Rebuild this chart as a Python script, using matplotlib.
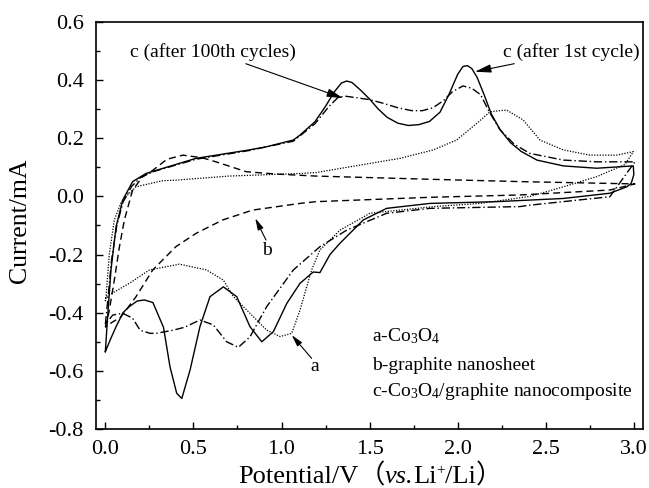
import matplotlib
matplotlib.use("Agg")
import matplotlib.pyplot as plt
from matplotlib.ticker import MultipleLocator, FormatStrFormatter

plt.rcParams['font.family'] = ['Liberation Serif', 'DejaVu Serif']
plt.rcParams['mathtext.fontset'] = 'custom'
plt.rcParams['mathtext.rm'] = 'Liberation Serif'
plt.rcParams['mathtext.it'] = 'Liberation Serif:italic'

# ---- data ----
# a: Co3O4 (dotted) — anodic then cathodic sweep
a_V = [0.0, 0.004, 0.023, 0.051, 0.09, 0.117, 0.174, 0.193, 0.326, 0.40, 0.70, 1.105, 1.196,
       1.389, 1.673, 1.862, 1.994, 2.108, 2.183, 2.24, 2.278, 2.372, 2.467, 2.6, 2.751, 2.902,
       2.997, 2.95, 2.789, 2.6, 2.41, 2.127, 1.862, 1.502, 1.332, 1.218, 1.171, 1.143, 1.105,
       1.058, 0.992, 0.916, 0.821, 0.727, 0.67, 0.575, 0.42, 0.25, 0.136, 0.004, 0.0]
a_I = [-0.36, -0.345, -0.196, -0.081, -0.02, -0.001, 0.033, 0.036, 0.054, 0.056, 0.07, 0.079, 0.082,
       0.102, 0.131, 0.16, 0.194, 0.251, 0.291, 0.295, 0.297, 0.263, 0.194, 0.16, 0.142, 0.142,
       0.154, 0.11, 0.068, 0.033, 0.0, -0.024, -0.035, -0.058, -0.116, -0.184, -0.253, -0.311, -0.391,
       -0.471, -0.482, -0.46, -0.402, -0.345, -0.288, -0.253, -0.233, -0.253, -0.299, -0.345, -0.36]

# b: graphite nanosheet (dashed)
b_V = [0.0, 0.02, 0.051, 0.08, 0.108, 0.155, 0.212, 0.27, 0.35, 0.44, 0.55, 0.628, 0.80, 0.97,
       1.196, 1.843, 2.353, 3.006, 2.864, 2.353, 1.843, 1.196, 1.105, 0.836, 0.666, 0.515, 0.40,
       0.269, 0.174, 0.089, 0.02, 0.0]
b_I = [-0.45, -0.40, -0.288, -0.173, -0.081, 0.022, 0.068, 0.09, 0.128, 0.142, 0.133, 0.119, 0.085, 0.077,
       0.07, 0.059, 0.051, 0.043, 0.022, 0.005, -0.003, -0.018, -0.024, -0.047, -0.081, -0.127, -0.173,
       -0.253, -0.345, -0.414, -0.44, -0.45]

# c after 1st cycle (solid)
c1_V = [0.0, 0.013, 0.032, 0.061, 0.099, 0.155, 0.231, 0.40, 0.515, 0.817, 0.916, 1.067, 1.105,
        1.19, 1.25, 1.30, 1.34, 1.37, 1.40, 1.45, 1.50, 1.55, 1.60, 1.66, 1.72, 1.78, 1.84, 1.90,
        1.95, 2.0, 2.03, 2.055, 2.08, 2.11, 2.15, 2.19, 2.24, 2.30, 2.36, 2.45, 2.6, 2.789, 2.997,
        3.0, 2.985, 2.96, 2.864, 2.6, 2.22, 1.843, 1.597, 1.464, 1.332, 1.275, 1.218, 1.18, 1.105,
        1.03, 0.954, 0.888, 0.821, 0.746, 0.67, 0.594, 0.537, 0.481, 0.434, 0.405, 0.367, 0.33,
        0.27, 0.221, 0.18, 0.136, 0.10, 0.061, 0.03, 0.0]
c1_I = [-0.534, -0.414, -0.253, -0.104, -0.012, 0.051, 0.079, 0.11, 0.131, 0.16, 0.171, 0.194, 0.211,
        0.257, 0.31, 0.36, 0.39, 0.397, 0.392, 0.365, 0.335, 0.30, 0.272, 0.252, 0.244, 0.247, 0.258, 0.29,
        0.35, 0.42, 0.447, 0.45, 0.44, 0.41, 0.35, 0.285, 0.23, 0.185, 0.155, 0.125, 0.105, 0.097, 0.105,
        0.075, 0.045, 0.033, 0.011, -0.007, -0.018, -0.024, -0.041, -0.081, -0.161, -0.20, -0.262, -0.26, -0.299,
        -0.368, -0.465, -0.50, -0.448, -0.345, -0.311, -0.345, -0.448, -0.597, -0.695, -0.677, -0.586, -0.45,
        -0.365, -0.356, -0.36, -0.379, -0.40, -0.448, -0.49, -0.534]

# c after 100th cycles (dash-dot)
c100_V = [0.0, 0.015, 0.035, 0.065, 0.10, 0.15, 0.20, 0.27, 0.515, 0.817, 1.067, 1.19, 1.27,
          1.32, 1.36, 1.42, 1.50, 1.58, 1.66, 1.74, 1.80, 1.86, 1.92, 1.97, 2.03, 2.08, 2.13, 2.18,
          2.24, 2.32, 2.41, 2.6, 2.789, 3.006, 2.864, 2.41, 2.353, 1.843, 1.597, 1.37, 1.218, 1.067,
          0.916, 0.821, 0.755, 0.689, 0.613, 0.537, 0.45, 0.386, 0.288, 0.254, 0.197, 0.155, 0.099,
          0.042, 0.0]
c100_I = [-0.44, -0.35, -0.22, -0.10, -0.02, 0.035, 0.065, 0.085, 0.128, 0.158, 0.19, 0.25, 0.31,
          0.34, 0.345, 0.34, 0.333, 0.32, 0.305, 0.295, 0.295, 0.305, 0.33, 0.36, 0.38, 0.372, 0.35, 0.29,
          0.23, 0.18, 0.148, 0.125, 0.119, 0.119, -0.001, -0.03, -0.035, -0.041, -0.058, -0.116, -0.173, -0.253,
          -0.379, -0.483, -0.519, -0.50, -0.442, -0.425, -0.45, -0.46, -0.471, -0.471, -0.46, -0.419, -0.402,
          -0.408, -0.44]

x_ticks = [0.0, 0.5, 1.0, 1.5, 2.0, 2.5, 3.0]
y_ticks = [-0.8, -0.6, -0.4, -0.2, 0.0, 0.2, 0.4, 0.6]

fig = plt.figure(figsize=(6.49, 4.88), dpi=100)
ax = fig.add_axes([96/649, 1-429/488, (643-96)/649, (429-22)/488])

lw = 1.0
ax.plot(a_V, a_I, color='black', lw=0.9, linestyle=(0, (1, 1.2)))
ax.plot(b_V, b_I, color='black', lw=lw, linestyle=(0, (5, 3)))
ax.plot(c1_V, c1_I, color='black', lw=lw, linestyle='-')
ax.plot(c100_V, c100_I, color='black', lw=lw, linestyle=(0, (6, 2, 1, 2)))

ax.set_xlim(-0.053, 3.052)
ax.set_ylim(-0.8, 0.6)
ax.set_xticks(x_ticks)
ax.set_yticks(y_ticks)
ax.xaxis.set_minor_locator(MultipleLocator(0.25))
ax.yaxis.set_minor_locator(MultipleLocator(0.1))
ax.xaxis.set_major_formatter(FormatStrFormatter('%.1f'))
ax.yaxis.set_major_formatter(FormatStrFormatter('%.1f'))
ax.tick_params(which='both', direction='in', top=False, right=False, width=1.0)
ax.tick_params(which='major', length=5, labelsize=16)
ax.tick_params(axis='y', which='major', pad=9)
ax.tick_params(axis='x', which='major', pad=8)
ax.tick_params(which='minor', length=3)
for s in ax.spines.values():
    s.set_linewidth(1.2)

fig.text(20/649, 1-221/488, 'Current/mA', rotation=90, ha='center', va='center', fontsize=18.5)

ap = dict(arrowstyle='-|>,head_length=0.7,head_width=0.18', color='black', lw=0.8,
          shrinkA=0, shrinkB=0)
ax.annotate('c (after 100th cycles)', xy=(1.349, 0.338), xytext=(1.08, 0.497),
            ha='right', va='center', fontsize=14, arrowprops=ap)
ax.annotate('c (after 1st cycle)', xy=(2.098, 0.429), xytext=(2.26, 0.497),
            ha='left', va='center', fontsize=14, arrowprops=ap)
ax.annotate('', xy=(0.851, -0.075), xytext=(0.912, -0.15), arrowprops=ap)
ax.text(0.92, -0.185, 'b', ha='center', va='center', fontsize=14)
ax.annotate('', xy=(1.058, -0.477), xytext=(1.171, -0.557), arrowprops=ap)
ax.text(1.19, -0.586, 'a', ha='center', va='center', fontsize=14)

ax.text(1.514, -0.497, r'a-Co$_3$O$_4$', ha='left', va='baseline', fontsize=14)
ax.text(1.514, -0.597, 'b-graphite nanosheet', ha='left', va='baseline', fontsize=14)
ax.text(1.514, -0.686, r'c-Co$_3$O$_4$/graphite nanocomposite', ha='left', va='baseline', fontsize=14)

# x label assembled from pieces (full-width parentheses, italic "vs.")
fig.canvas.draw()
renderer = fig.canvas.get_renderer()
W, H = fig.bbox.width, fig.bbox.height
fs = 19
pieces = [
    ('Potential/V', dict(family=['Liberation Serif']), 0),
    ('（', dict(family=['Noto Sans CJK SC']), 0),
    ('vs.', dict(family=['Liberation Serif'], style='italic'), 0),
    ('Li', dict(family=['Liberation Serif']), 0),
    ('+', dict(family=['Liberation Serif'], fontsize=11), 9),
    ('/Li', dict(family=['Liberation Serif']), 0),
    ('）', dict(family=['Noto Sans CJK SC']), 0),
]
x0 = 238.0
base_y = 483.0
for txt, kw, rise in pieces:
    kw = dict(kw)
    size = kw.pop('fontsize', fs)
    t = fig.text(x0 / W, 1 - (base_y - rise) / H, txt, ha='left', va='baseline',
                 fontsize=size, **kw)
    bb = t.get_window_extent(renderer)
    x0 += bb.width

fig.savefig('out.png', dpi=100)
